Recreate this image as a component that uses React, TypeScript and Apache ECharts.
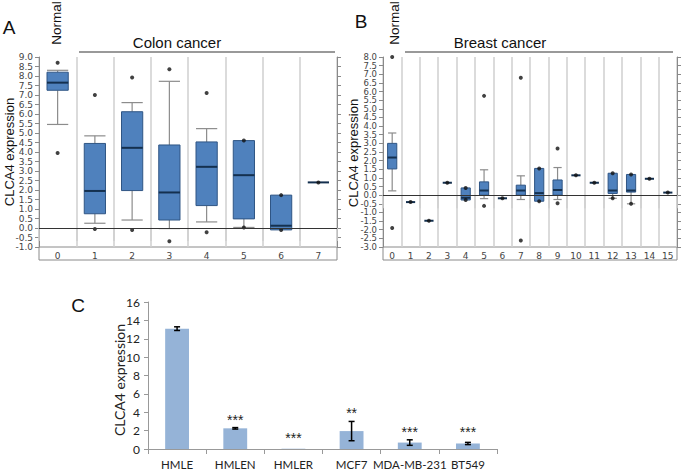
import React, { useEffect, useRef } from 'react';
import * as echarts from 'echarts';

// ---------- Panel A: colon cancer (box = [min, q1, median, q3, max]) ----------
const colonCats = ['0', '1', '2', '3', '4', '5', '6', '7'];
const colonBoxes = [
  [5.45, 7.25, 7.65, 8.2, 8.3],
  [0.25, 0.75, 1.95, 4.45, 4.85],
  [0.42, 1.97, 4.22, 6.12, 6.6],
  [-0.03, 0.42, 1.87, 4.37, 7.72],
  [0.32, 1.18, 3.22, 4.53, 5.23],
  [0.03, 0.48, 2.78, 4.6, 4.6],
  [-0.1, -0.1, 0.12, 1.73, 1.73],
  [2.4, 2.4, 2.4, 2.4, 2.4],
];
const colonDots = [
  [0, 8.7], [0, 3.95], [1, 7.0], [1, -0.05], [2, 7.92], [2, -0.1],
  [3, 8.35], [3, -0.7], [4, 7.1], [4, -0.22], [5, 4.6], [5, 0.03],
  [6, 1.73], [6, -0.1], [7, 2.4],
];

// ---------- Panel B: breast cancer ----------
const breastCats = ['0', '1', '2', '3', '4', '5', '6', '7', '8', '9', '10', '11', '12', '13', '14', '15'];
const breastBoxes = [
  [0.25, 1.52, 2.18, 3.0, 3.6],
  [-0.4, -0.4, -0.4, -0.4, -0.4],
  [-1.48, -1.48, -1.48, -1.48, -1.48],
  [0.72, 0.72, 0.72, 0.72, 0.72],
  [-0.28, -0.28, -0.15, 0.42, 0.42],
  [-0.2, 0.0, 0.27, 0.77, 1.47],
  [-0.18, -0.18, -0.18, -0.18, -0.18],
  [-0.25, 0.0, 0.27, 0.58, 1.12],
  [-0.35, -0.35, 0.12, 1.55, 1.55],
  [-0.25, 0.0, 0.3, 0.88, 1.6],
  [1.15, 1.15, 1.15, 1.15, 1.15],
  [0.72, 0.72, 0.72, 0.72, 0.72],
  [-0.18, 0.1, 0.27, 1.27, 1.27],
  [-0.5, 0.18, 0.27, 1.2, 1.2],
  [0.95, 0.95, 0.95, 0.95, 0.95],
  [0.15, 0.15, 0.15, 0.15, 0.15],
];
const breastDots = [
  [0, 8.0], [0, -1.9], [1, -0.4], [2, -1.48], [3, 0.72], [4, 0.42], [4, -0.28],
  [5, 5.75], [5, -0.62], [6, -0.18], [7, 6.8], [7, -2.62], [8, 1.55], [8, -0.35],
  [9, 2.7], [9, -0.47], [10, 1.15], [11, 0.72], [12, 1.27], [12, -0.18],
  [13, 1.2], [13, -0.5], [14, 0.95], [15, 0.15],
];

// ---------- Panel C: cell lines ----------
const cellLines = ['HMLE', 'HMLEN', 'HMLER', 'MCF7', 'MDA-MB-231', 'BT549'];
const cellMeans = [13.1, 2.25, 0.03, 1.95, 0.7, 0.6];
const cellErrors = [0.2, 0.08, 0, 1.05, 0.3, 0.12];
const cellStars = ['', '***', '***', '**', '***', '***'];
const cellStarLevels = [0, 3.15, 1.2, 3.9, 1.85, 1.85];

const TICK_FONT = 'DejaVu Sans';
const SANS = 'Liberation Sans';

function boxRender(ratio: number, capRatio: number) {
  return (params: any, api: any) => {
    const c = api.value(0);
    const lo = api.value(1), q1 = api.value(2), md = api.value(3), q3 = api.value(4), hi = api.value(5);
    const band = api.size([1, 0])[0];
    const w = band * ratio;
    const cw = w * capRatio;
    const pLo = api.coord([c, lo]);
    const pQ1 = api.coord([c, q1]);
    const pMd = api.coord([c, md]);
    const pQ3 = api.coord([c, q3]);
    const pHi = api.coord([c, hi]);
    const cx = pMd[0];
    const whisk = { stroke: '#8c8c8c', lineWidth: 1.2 };
    const children: any[] = [];
    if (hi > q3) {
      children.push({ type: 'line', shape: { x1: cx, y1: pQ3[1], x2: cx, y2: pHi[1] }, style: whisk });
      children.push({ type: 'line', shape: { x1: cx - cw / 2, y1: pHi[1], x2: cx + cw / 2, y2: pHi[1] }, style: whisk });
    }
    if (lo < q1) {
      children.push({ type: 'line', shape: { x1: cx, y1: pQ1[1], x2: cx, y2: pLo[1] }, style: whisk });
      children.push({ type: 'line', shape: { x1: cx - cw / 2, y1: pLo[1], x2: cx + cw / 2, y2: pLo[1] }, style: whisk });
    }
    if (q3 > q1) {
      children.push({
        type: 'rect',
        shape: { x: cx - w / 2, y: pQ3[1], width: w, height: pQ1[1] - pQ3[1] },
        style: { fill: '#4f81bd', stroke: '#2f5584', lineWidth: 1 },
      });
    }
    children.push({
      type: 'line',
      shape: { x1: cx - w / 2, y1: pMd[1], x2: cx + w / 2, y2: pMd[1] },
      style: { stroke: '#14304f', lineWidth: 2 },
    });
    return { type: 'group', children };
  };
}

function errRender(params: any, api: any) {
  const i = params.dataIndex;
  const c = api.value(0);
  const lo = api.value(1), hi = api.value(2), lvl = api.value(3);
  const pLo = api.coord([c, lo]);
  const pHi = api.coord([c, hi]);
  const pS = api.coord([c, lvl]);
  const cx = pLo[0];
  const st = { stroke: '#000', lineWidth: 1.5 };
  const children: any[] = [];
  if (hi > lo) {
    children.push({ type: 'line', shape: { x1: cx, y1: pLo[1], x2: cx, y2: pHi[1] }, style: st });
    children.push({ type: 'line', shape: { x1: cx - 3, y1: pLo[1], x2: cx + 3, y2: pLo[1] }, style: st });
    children.push({ type: 'line', shape: { x1: cx - 3, y1: pHi[1], x2: cx + 3, y2: pHi[1] }, style: st });
  }
  if (cellStars[i]) {
    children.push({
      type: 'text',
      x: cx,
      y: pS[1],
      style: { text: cellStars[i], fill: '#222', font: '14px ' + SANS, align: 'center', verticalAlign: 'middle' },
    });
  }
  return { type: 'group', children };
}

const frame = '#8a8a8a';
const gridLine = '#cfcfcf';

function boxYAxis(
  grid: number,
  min: number,
  max: number,
  right: boolean,
  fs: number,
  mode: 'all' | 'inner' | 'ends' = 'all'
) {
  return {
    type: 'value',
    gridIndex: grid,
    position: right ? 'right' : 'left',
    min,
    max,
    interval: 0.5,
    axisLine: { show: mode !== 'ends', lineStyle: { color: frame, width: 1 } },
    axisTick: { show: true, length: 4, lineStyle: { color: frame } },
    axisLabel: {
      show: !right,
      showMinLabel: mode === 'inner' ? false : true,
      showMaxLabel: mode === 'inner' ? false : true,
      formatter: (v: number) =>
        mode === 'ends' ? (v === min || v === max ? v.toFixed(1) : '') : v.toFixed(1),
      fontFamily: TICK_FONT,
      fontSize: fs,
      color: '#444',
      margin: 6,
    },
    splitLine: { show: false },
  };
}

function boxXAxis(grid: number, cats: string[]) {
  return {
    type: 'category',
    gridIndex: grid,
    data: cats,
    boundaryGap: true,
    axisLine: { show: true, lineStyle: { color: frame, width: 1 } },
    axisTick: { show: true, length: 13, interval: 0, lineStyle: { color: gridLine, width: 1.5 } },
    axisLabel: { interval: 0, fontFamily: TICK_FONT, fontSize: 9, color: '#444', margin: 4 },
    splitLine: { show: true, interval: 0, lineStyle: { color: gridLine, width: 1.5 } },
  };
}

const zeroLine = {
  silent: true,
  symbol: ['none', 'none'],
  label: { show: false },
  lineStyle: { color: '#333', width: 1, type: 'solid' },
  data: [{ yAxis: 0 }],
};

const option: any = {
  animation: false,
  backgroundColor: '#fff',
  grid: [
    { left: 39, top: 57, width: 298, height: 190 },
    { left: 383, top: 57, width: 294, height: 190 },
    { left: 148, top: 302, width: 349, height: 147 },
  ],
  xAxis: [
    boxXAxis(0, colonCats),
    boxXAxis(1, breastCats),
    {
      type: 'category',
      gridIndex: 2,
      data: cellLines,
      axisLine: { show: true, lineStyle: { color: '#999' } },
      axisTick: { show: true, length: 5, interval: 0, lineStyle: { color: '#999' } },
      axisLabel: { interval: 0, fontFamily: 'Lato', fontSize: 11.5, color: '#222', margin: 9 },
      splitLine: { show: false },
    },
  ],
  yAxis: [
    boxYAxis(0, -1, 9, false, 9),
    boxYAxis(0, -1, 9, true, 9),
    boxYAxis(1, -3, 8, false, 8.5, 'inner'),
    boxYAxis(1, -3, 8, true, 8.5),
    {
      type: 'value',
      gridIndex: 2,
      min: 0,
      max: 16,
      interval: 2,
      axisLine: { show: true, lineStyle: { color: '#999' } },
      axisTick: { show: true, length: 4, lineStyle: { color: '#999' } },
      axisLabel: { fontFamily: 'Lato', fontSize: 12, color: '#222', margin: 8 },
      splitLine: { show: false },
    },
    boxYAxis(1, -3, 8, false, 8.5, 'ends'),
  ],
  series: [
    {
      type: 'custom',
      xAxisIndex: 0,
      yAxisIndex: 0,
      renderItem: boxRender(0.57, 1),
      encode: { x: 0, y: [1, 2, 3, 4, 5] },
      data: colonBoxes.map((b, i) => [i, ...b]),
      z: 3,
    },
    {
      type: 'scatter',
      xAxisIndex: 0,
      yAxisIndex: 0,
      symbolSize: 4,
      itemStyle: { color: '#111' },
      data: colonDots,
      markLine: zeroLine,
      z: 4,
    },
    {
      type: 'custom',
      xAxisIndex: 1,
      yAxisIndex: 2,
      renderItem: boxRender(0.5, 0.9),
      encode: { x: 0, y: [1, 2, 3, 4, 5] },
      data: breastBoxes.map((b, i) => [i, ...b]),
      z: 3,
    },
    {
      type: 'scatter',
      xAxisIndex: 1,
      yAxisIndex: 2,
      symbolSize: 4,
      itemStyle: { color: '#111' },
      data: breastDots,
      markLine: zeroLine,
      z: 4,
    },
    {
      type: 'bar',
      xAxisIndex: 2,
      yAxisIndex: 4,
      barWidth: '41%',
      itemStyle: { color: '#95b3d7' },
      data: cellMeans,
    },
    {
      type: 'custom',
      xAxisIndex: 2,
      yAxisIndex: 4,
      renderItem: errRender,
      encode: { x: 0, y: [1, 2, 3] },
      data: cellMeans.map((m, i) => [i, m - cellErrors[i], m + cellErrors[i], cellStarLevels[i]]),
      z: 5,
    },
  ],
  graphic: [
    // label rows below the box plots
    { type: 'rect', shape: { x: 39, y: 247, width: 298, height: 13 }, style: { fill: 'none', stroke: frame, lineWidth: 1 } },
    { type: 'rect', shape: { x: 383, y: 247, width: 294, height: 13 }, style: { fill: 'none', stroke: frame, lineWidth: 1 } },
    // panel letters
    { type: 'text', x: 9, y: 27, style: { text: 'A', font: '19px ' + SANS, fill: '#111', align: 'center', verticalAlign: 'middle' } },
    { type: 'text', x: 361, y: 21, style: { text: 'B', font: '19px ' + SANS, fill: '#111', align: 'center', verticalAlign: 'middle' } },
    { type: 'text', x: 78, y: 305, style: { text: 'C', font: '19px ' + SANS, fill: '#111', align: 'center', verticalAlign: 'middle' } },
    // Normal labels
    { type: 'text', x: 56, y: 23, rotation: Math.PI / 2, style: { text: 'Normal', font: '13.5px ' + SANS, fill: '#111', align: 'center', verticalAlign: 'middle' } },
    { type: 'text', x: 394, y: 23, rotation: Math.PI / 2, style: { text: 'Normal', font: '13.5px ' + SANS, fill: '#111', align: 'center', verticalAlign: 'middle' } },
    // group titles
    { type: 'text', x: 177, y: 42, style: { text: 'Colon cancer', font: '15px ' + SANS, fill: '#111', align: 'center', verticalAlign: 'middle' } },
    { type: 'line', shape: { x1: 79, y1: 52, x2: 335, y2: 52 }, style: { stroke: '#999', lineWidth: 2 } },
    { type: 'text', x: 500, y: 42, style: { text: 'Breast cancer', font: '15px ' + SANS, fill: '#111', align: 'center', verticalAlign: 'middle' } },
    { type: 'line', shape: { x1: 405, y1: 52, x2: 673, y2: 52 }, style: { stroke: '#999', lineWidth: 2 } },
    // y axis titles
    { type: 'text', x: 9, y: 152, rotation: Math.PI / 2, style: { text: 'CLCA4 expression', font: '13px ' + SANS, fill: '#111', align: 'center', verticalAlign: 'middle' } },
    { type: 'text', x: 353, y: 153, rotation: Math.PI / 2, style: { text: 'CLCA4 expression', font: '13px ' + SANS, fill: '#111', align: 'center', verticalAlign: 'middle' } },
    { type: 'text', x: 119, y: 380, rotation: Math.PI / 2, style: { text: 'CLCA4 expression', font: '14px Lato', fill: '#222', align: 'center', verticalAlign: 'middle' } },
  ],
};

export default function App() {
  const ref = useRef<HTMLDivElement>(null);
  useEffect(() => {
    const chart = echarts.init(ref.current!, null, { renderer: 'svg' });
    chart.setOption(option);
    return () => chart.dispose();
  }, []);
  return (
    <div
      ref={ref}
      style={{ position: 'fixed', left: 0, top: 0, width: 686, height: 471, background: '#fff' }}
    />
  );
}
